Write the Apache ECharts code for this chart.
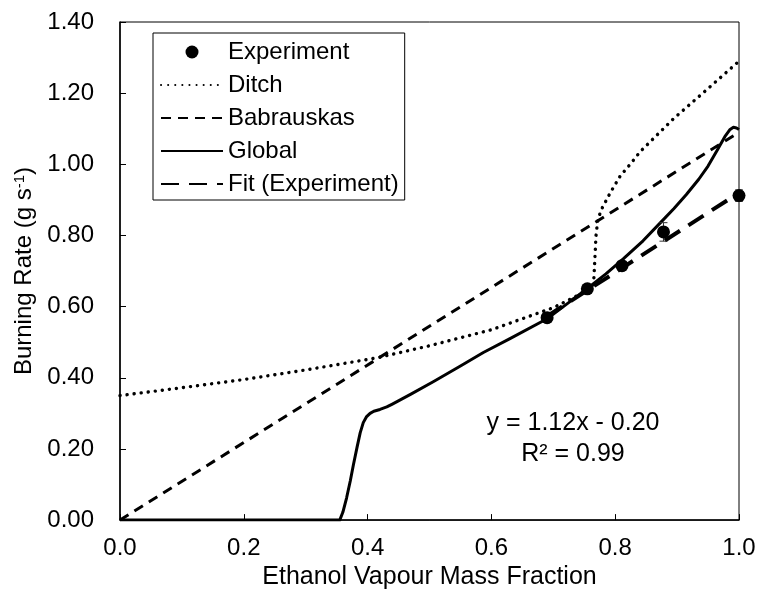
<!DOCTYPE html>
<html>
<head>
<meta charset="utf-8">
<script src="https://cdn.jsdelivr.net/npm/echarts@6/dist/echarts.min.js"></script>
<style>
html,body{margin:0;padding:0;background:#fff;}
#c{width:760px;height:595px;}
</style>
</head>
<body>
<div id="c"></div>
<script>
// ---- data ----
const expX = [0.69, 0.755, 0.811, 0.878, 1.0];
const expY = [0.569, 0.650, 0.715, 0.810, 0.912];
const expErr = [0.006, 0.006, 0.008, 0.026, 0.016];

const ditchX = [0, 0.1, 0.2, 0.3, 0.415, 0.5, 0.6, 0.65, 0.7, 0.74, 0.765, 0.767, 0.769, 0.772, 0.778, 0.792, 0.808, 0.827, 0.84, 0.894, 0.948, 1.0];
const ditchY = [0.35, 0.372, 0.395, 0.422, 0.456, 0.49, 0.535, 0.566, 0.597, 0.632, 0.66, 0.73, 0.80, 0.845, 0.874, 0.92, 0.967, 1.006, 1.035, 1.128, 1.21, 1.29];

const babX = [0, 1.0];
const babY = [0, 1.09];

const globalX = [0, 0.3, 0.345, 0.355, 0.36, 0.366, 0.372, 0.377, 0.383, 0.388, 0.393, 0.398, 0.404, 0.41, 0.42, 0.431, 0.44, 0.452, 0.47, 0.506, 0.55, 0.587, 0.63, 0.69, 0.72, 0.754, 0.785, 0.813, 0.845, 0.872, 0.895, 0.915, 0.935, 0.95, 0.965, 0.978, 0.985, 0.991, 0.996, 1.0];
const globalY = [0, 0, 0, 0, 0.022, 0.062, 0.11, 0.155, 0.205, 0.245, 0.274, 0.29, 0.300, 0.306, 0.311, 0.318, 0.326, 0.337, 0.354, 0.389, 0.433, 0.471, 0.51, 0.566, 0.605, 0.65, 0.692, 0.734, 0.785, 0.834, 0.876, 0.915, 0.958, 0.995, 1.04, 1.08, 1.097, 1.104, 1.102, 1.098];

const fitX = [0.69, 1.0];
const fitY = [0.573, 0.92];

const xTicks = [0, 0.2, 0.4, 0.6, 0.8, 1.0];
const yTicks = [0, 0.2, 0.4, 0.6, 0.8, 1.0, 1.2, 1.4];

const eqText = 'y = 1.12x - 0.20';
const r2Text = 'R² = 0.99';

const zip = (a, b) => a.map((v, i) => [v, b[i]]);
const FONT = 'Liberation Sans, Arial, sans-serif';
const FS = 24;
const NOFILL = 'rgba(0,0,0,0)';

const chart = echarts.init(document.getElementById('c'), null, {renderer: 'canvas'});
const option = {
  backgroundColor: '#fff',
  animation: false,
  textStyle: {fontFamily: FONT, color: '#000'},
  grid: {left: 120, right: 21, top: 22, bottom: 73, show: true, borderColor: '#000', borderWidth: 1, backgroundColor: 'transparent'},
  legend: {
    orient: 'vertical',
    left: 153, top: 33,
    backgroundColor: '#fff',
    borderColor: '#000', borderWidth: 1, borderRadius: 0,
    padding: [7, 6, 4, 7],
    itemWidth: 62, itemHeight: 13, itemGap: 9,
    textStyle: {fontFamily: FONT, fontSize: FS, color: '#000'},
    data: ['Experiment', 'Ditch', 'Babrauskas', 'Global', 'Fit (Experiment)']
  },
  xAxis: {
    type: 'value', min: xTicks[0], max: xTicks[xTicks.length - 1], interval: 0.2,
    name: 'Ethanol Vapour Mass Fraction', nameLocation: 'middle', nameGap: 44,
    nameTextStyle: {fontFamily: FONT, fontSize: 25, color: '#000'},
    axisLine: {show: true, onZero: false, lineStyle: {color: '#000', width: 1.5}},
    axisTick: {show: true, inside: true, length: 6, lineStyle: {color: '#000', width: 1}},
    axisLabel: {fontFamily: FONT, fontSize: FS, color: '#000', margin: 16, formatter: v => v.toFixed(1)},
    splitLine: {show: false}
  },
  yAxis: {
    type: 'value', min: yTicks[0], max: yTicks[yTicks.length - 1], interval: 0.2,
    name: 'Burning Rate (g s{sup|-1})', nameLocation: 'middle', nameGap: 82,
    nameTextStyle: {fontFamily: FONT, fontSize: FS, color: '#000',
      rich: {sup: {fontFamily: FONT, fontSize: 15, color: '#000', verticalAlign: 'top', padding: [0, 0, 9, 0]}}},
    axisLine: {show: true, onZero: false, lineStyle: {color: '#000', width: 1.5}},
    axisTick: {show: true, inside: true, length: 6, lineStyle: {color: '#000', width: 1}},
    axisLabel: {fontFamily: FONT, fontSize: FS, color: '#000', margin: 26, formatter: v => v.toFixed(2)},
    splitLine: {show: false}
  },
  graphic: [
    {type: 'text', x: 573, y: 423, style: {text: eqText, font: '25px ' + FONT, fill: '#000', align: 'center', verticalAlign: 'middle'}},
    {type: 'text', x: 573, y: 454, style: {text: r2Text, font: '25px ' + FONT, fill: '#000', align: 'center', verticalAlign: 'middle'}}
  ],
  series: [
    {
      name: 'Ditch', type: 'line', data: zip(ditchX, ditchY), symbol: 'none', z: 3,
      lineStyle: {color: '#000', width: 3.4, type: [0.1, 7], cap: 'round'}, itemStyle: {color: NOFILL}
    },
    {
      name: 'Babrauskas', type: 'line', data: zip(babX, babY), symbol: 'none', z: 3,
      lineStyle: {color: '#000', width: 3, type: [10, 7]}, itemStyle: {color: NOFILL}
    },
    {
      name: 'Global', type: 'line', data: zip(globalX, globalY), symbol: 'none', z: 4,
      lineStyle: {color: '#000', width: 3, join: 'round'}, itemStyle: {color: NOFILL}
    },
    {
      name: 'Fit (Experiment)', type: 'line', data: zip(fitX, fitY), symbol: 'none', z: 5,
      lineStyle: {color: '#000', width: 4, type: [18, 10]}, itemStyle: {color: NOFILL}
    },
    {
      name: 'ErrorBars', type: 'custom', z: 6,
      data: expX.map((x, i) => [x, expY[i] - expErr[i], expY[i] + expErr[i]]),
      renderItem: function (params, api) {
        const lo = api.coord([api.value(0), api.value(1)]);
        const hi = api.coord([api.value(0), api.value(2)]);
        const cw = 4;
        const st = {stroke: '#333', lineWidth: 1};
        return {type: 'group', children: [
          {type: 'line', shape: {x1: lo[0], y1: lo[1], x2: hi[0], y2: hi[1]}, style: st},
          {type: 'line', shape: {x1: lo[0] - cw, y1: lo[1], x2: lo[0] + cw, y2: lo[1]}, style: st},
          {type: 'line', shape: {x1: hi[0] - cw, y1: hi[1], x2: hi[0] + cw, y2: hi[1]}, style: st}
        ]};
      }
    },
    {
      name: 'Experiment', type: 'scatter', data: zip(expX, expY), symbol: 'circle', symbolSize: 13, z: 7,
      itemStyle: {color: '#000', opacity: 1}
    }
  ]
};
chart.setOption(option);
</script>
</body>
</html>
